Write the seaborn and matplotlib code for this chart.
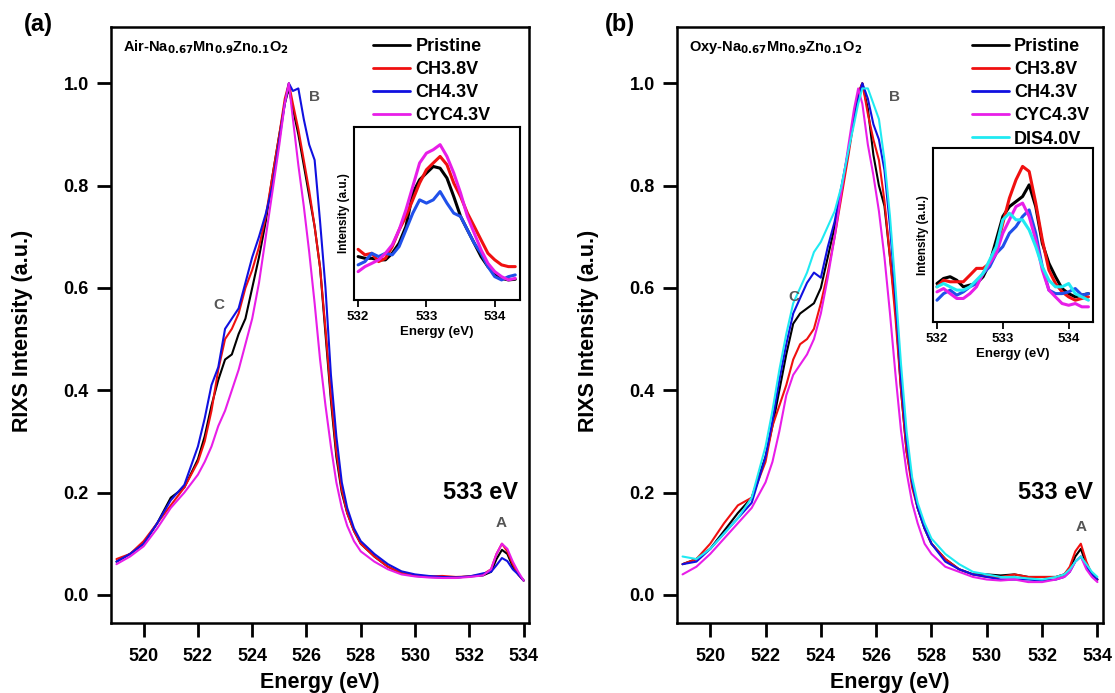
import numpy as np
import pandas as pd
import matplotlib
matplotlib.use("Agg")
import matplotlib.pyplot as plt
import seaborn as sns

# ---------------- data ----------------
energy = [519, 519.5, 520, 520.5, 521, 521.5, 522, 522.25, 522.5, 522.75, 523, 523.25,
          523.5, 523.75, 524, 524.25, 524.5, 524.75, 525, 525.2, 525.35, 525.5, 525.7,
          525.9, 526.1, 526.3, 526.5, 526.7, 526.9, 527.1, 527.3, 527.5, 527.75, 528,
          528.5, 529, 529.5, 530, 530.5, 531, 531.5, 532, 532.5, 532.8, 533, 533.2,
          533.4, 533.6, 533.8, 534]

# panel (a) Air sample
a_pristine = [0.065, 0.08, 0.10, 0.14, 0.19, 0.21, 0.265, 0.31, 0.37, 0.42, 0.46, 0.47,
              0.51, 0.54, 0.60, 0.66, 0.73, 0.82, 0.90, 0.96, 0.99, 0.95, 0.90,
              0.84, 0.78, 0.72, 0.64, 0.51, 0.38, 0.27, 0.20, 0.16, 0.125, 0.10,
              0.075, 0.055, 0.042, 0.037, 0.035, 0.034, 0.034, 0.036, 0.038, 0.045, 0.07, 0.088,
              0.08, 0.055, 0.04, 0.028]
a_ch38 = [0.07, 0.08, 0.105, 0.14, 0.175, 0.21, 0.26, 0.30, 0.36, 0.44, 0.50, 0.52,
          0.55, 0.60, 0.635, 0.68, 0.74, 0.82, 0.90, 0.97, 1.0, 0.96, 0.91,
          0.85, 0.79, 0.72, 0.64, 0.52, 0.39, 0.28, 0.205, 0.16, 0.125, 0.10,
          0.075, 0.055, 0.043, 0.038, 0.036, 0.037, 0.035, 0.036, 0.04, 0.05, 0.08, 0.10,
          0.085, 0.06, 0.04, 0.028]
a_ch43 = [0.065, 0.08, 0.10, 0.14, 0.185, 0.215, 0.29, 0.345, 0.41, 0.445, 0.52, 0.54,
          0.56, 0.61, 0.66, 0.70, 0.745, 0.80, 0.89, 0.96, 1.0, 0.985, 0.99,
          0.93, 0.88, 0.85, 0.73, 0.60, 0.43, 0.31, 0.22, 0.17, 0.13, 0.105,
          0.08, 0.06, 0.046, 0.04, 0.037, 0.035, 0.034, 0.036, 0.042, 0.045, 0.058, 0.072,
          0.066, 0.05, 0.04, 0.028]
a_cyc43 = [0.06, 0.075, 0.095, 0.13, 0.17, 0.20, 0.235, 0.26, 0.29, 0.33, 0.36, 0.40,
           0.44, 0.49, 0.54, 0.61, 0.70, 0.79, 0.88, 0.96, 1.0, 0.93, 0.84,
           0.76, 0.67, 0.57, 0.46, 0.37, 0.29, 0.22, 0.17, 0.135, 0.105, 0.085,
           0.065, 0.05, 0.04, 0.036, 0.034, 0.033, 0.033, 0.035, 0.038, 0.05, 0.08, 0.10,
           0.09, 0.065, 0.045, 0.028]

# panel (b) Oxy sample
b_pristine = [0.06, 0.07, 0.09, 0.125, 0.16, 0.19, 0.27, 0.33, 0.40, 0.47, 0.53, 0.55,
              0.56, 0.57, 0.60, 0.66, 0.72, 0.79, 0.87, 0.93, 0.98, 1.0, 0.95,
              0.86, 0.80, 0.76, 0.66, 0.56, 0.40, 0.28, 0.22, 0.17, 0.13, 0.10,
              0.07, 0.05, 0.04, 0.04, 0.038, 0.04, 0.035, 0.035, 0.035, 0.04, 0.05, 0.075,
              0.09, 0.06, 0.04, 0.03]
b_ch38 = [0.06, 0.07, 0.10, 0.14, 0.175, 0.19, 0.26, 0.33, 0.37, 0.41, 0.46, 0.49,
          0.50, 0.52, 0.57, 0.63, 0.70, 0.78, 0.86, 0.93, 0.98, 1.0, 0.94,
          0.89, 0.85, 0.77, 0.66, 0.54, 0.40, 0.28, 0.21, 0.17, 0.13, 0.10,
          0.07, 0.05, 0.04, 0.035, 0.035, 0.04, 0.035, 0.035, 0.035, 0.04, 0.055, 0.085,
          0.10, 0.065, 0.04, 0.03]
b_ch43 = [0.06, 0.065, 0.09, 0.12, 0.15, 0.18, 0.27, 0.34, 0.42, 0.49, 0.55, 0.58,
          0.61, 0.63, 0.62, 0.68, 0.73, 0.80, 0.87, 0.93, 0.97, 1.0, 0.97,
          0.92, 0.89, 0.83, 0.72, 0.58, 0.42, 0.30, 0.22, 0.17, 0.13, 0.10,
          0.065, 0.05, 0.04, 0.035, 0.03, 0.03, 0.03, 0.028, 0.03, 0.035, 0.045, 0.065,
          0.075, 0.055, 0.04, 0.03]
b_cyc43 = [0.04, 0.055, 0.08, 0.11, 0.14, 0.17, 0.22, 0.26, 0.32, 0.39, 0.43, 0.45,
           0.47, 0.50, 0.55, 0.62, 0.70, 0.79, 0.88, 0.95, 0.99, 0.96, 0.88,
           0.82, 0.75, 0.66, 0.55, 0.43, 0.32, 0.24, 0.18, 0.14, 0.10, 0.08,
           0.055, 0.045, 0.035, 0.03, 0.028, 0.03, 0.025, 0.025, 0.03, 0.035, 0.045, 0.065,
           0.075, 0.05, 0.035, 0.025]
b_dis40 = [0.075, 0.07, 0.09, 0.12, 0.15, 0.19, 0.29, 0.36, 0.44, 0.51, 0.57, 0.60,
           0.63, 0.67, 0.69, 0.72, 0.75, 0.80, 0.87, 0.92, 0.96, 0.99, 0.99,
           0.96, 0.93, 0.85, 0.74, 0.60, 0.45, 0.32, 0.23, 0.18, 0.14, 0.11,
           0.08, 0.06, 0.045, 0.04, 0.035, 0.035, 0.032, 0.03, 0.035, 0.04, 0.05, 0.065,
           0.075, 0.06, 0.045, 0.035]

# insets (arbitrary units)
inset_energy = [532.0, 532.1, 532.2, 532.3, 532.4, 532.5, 532.6, 532.7, 532.8, 532.9,
                533.0, 533.1, 533.2, 533.3, 533.4, 533.5, 533.6, 533.7, 533.8, 533.9,
                534.0, 534.1, 534.2, 534.3]
ia_pristine = [0.251, 0.241, 0.241, 0.232, 0.232, 0.270, 0.328, 0.425, 0.618, 0.695, 0.734, 0.772,
               0.762, 0.705, 0.598, 0.483, 0.405, 0.328, 0.251, 0.193, 0.154, 0.125, 0.116, 0.120]
ia_ch38 = [0.293, 0.261, 0.270, 0.222, 0.241, 0.309, 0.405, 0.483, 0.579, 0.676, 0.753, 0.792,
           0.830, 0.782, 0.676, 0.598, 0.502, 0.425, 0.347, 0.270, 0.232, 0.203, 0.193, 0.193]
ia_ch43 = [0.203, 0.222, 0.270, 0.251, 0.270, 0.261, 0.309, 0.405, 0.502, 0.579, 0.560, 0.579,
           0.627, 0.560, 0.502, 0.483, 0.405, 0.328, 0.270, 0.193, 0.135, 0.116, 0.135, 0.145]
ia_cyc43 = [0.164, 0.193, 0.212, 0.232, 0.270, 0.319, 0.405, 0.521, 0.656, 0.792, 0.849, 0.869,
            0.898, 0.830, 0.734, 0.618, 0.483, 0.386, 0.290, 0.212, 0.164, 0.135, 0.116, 0.125]

ib_pristine = [0.221, 0.250, 0.260, 0.240, 0.202, 0.212, 0.221, 0.260, 0.337, 0.471, 0.606, 0.663,
               0.692, 0.721, 0.788, 0.663, 0.452, 0.337, 0.260, 0.192, 0.163, 0.144, 0.154, 0.163]
ib_ch38 = [0.202, 0.240, 0.231, 0.231, 0.231, 0.269, 0.308, 0.308, 0.337, 0.413, 0.567, 0.712,
           0.817, 0.894, 0.865, 0.683, 0.471, 0.298, 0.221, 0.173, 0.144, 0.125, 0.135, 0.144]
ib_ch43 = [0.125, 0.163, 0.183, 0.154, 0.173, 0.202, 0.221, 0.279, 0.317, 0.394, 0.433, 0.510,
           0.548, 0.606, 0.644, 0.510, 0.317, 0.183, 0.163, 0.163, 0.173, 0.192, 0.154, 0.163]
ib_cyc43 = [0.173, 0.192, 0.163, 0.135, 0.135, 0.163, 0.202, 0.279, 0.337, 0.394, 0.510, 0.587,
            0.663, 0.683, 0.606, 0.471, 0.298, 0.183, 0.144, 0.106, 0.096, 0.106, 0.087, 0.087]
ib_dis40 = [0.202, 0.221, 0.202, 0.183, 0.183, 0.202, 0.240, 0.279, 0.356, 0.433, 0.587, 0.625,
            0.587, 0.587, 0.529, 0.433, 0.317, 0.240, 0.202, 0.202, 0.221, 0.163, 0.144, 0.125]

labels = ["Pristine", "CH3.8V", "CH4.3V", "CYC4.3V", "DIS4.0V"]
colors = ["#000000", "#f01010", "#1010e0", "#e81ee8", "#20eaf2"]
inset_colors = ["#000000", "#f01010", "#2050ea", "#e81ee8", "#20eaf2"]
main_ticks = [520, 522, 524, 526, 528, 530, 532, 534]
y_ticks = [0.0, 0.2, 0.4, 0.6, 0.8, 1.0]
inset_ticks = [532, 533, 534]

# ---------------- style ----------------
sns.set_theme(style="ticks")
plt.rcParams['font.family'] = ['Liberation Sans', 'DejaVu Sans']
plt.rcParams['font.weight'] = 'bold'
plt.rcParams['axes.labelweight'] = 'bold'
for k in ['text.color', 'axes.labelcolor', 'xtick.color', 'ytick.color', 'axes.edgecolor']:
    plt.rcParams[k] = 'black'

fig = plt.figure(figsize=(11.15, 6.93), dpi=100)

main_pos = {"a": [0.0996, 0.101, 0.3749, 0.860], "b": [0.6072, 0.101, 0.3820, 0.860]}
inset_pos = {"a": [0.3175, 0.5671, 0.1489, 0.2496], "b": [0.8368, 0.5354, 0.1435, 0.2511]}
legend_anchor = {"a": (0.627, 0.9815), "b": (0.692, 0.9815)}
ylabel_x = {"a": -0.187, "b": -0.183}

panels = {
    "a": dict(main=[a_pristine, a_ch38, a_ch43, a_cyc43],
              inset=[ia_pristine, ia_ch38, ia_ch43, ia_cyc43],
              title=r"Air-Na$_{\mathbf{0.67}}$Mn$_{\mathbf{0.9}}$Zn$_{\mathbf{0.1}}$O$_{\mathbf{2}}$",
              B=(526.31, 0.973), C=(522.76, 0.566), A=(533.16, 0.14), E=(532.4, 0.20)),
    "b": dict(main=[b_pristine, b_ch38, b_ch43, b_cyc43, b_dis40],
              inset=[ib_pristine, ib_ch38, ib_ch43, ib_cyc43, ib_dis40],
              title=r"Oxy-Na$_{\mathbf{0.67}}$Mn$_{\mathbf{0.9}}$Zn$_{\mathbf{0.1}}$O$_{\mathbf{2}}$",
              B=(526.67, 0.973), C=(523.04, 0.582), A=(533.40, 0.133), E=(532.5, 0.20)),
}


def style_frame(ax, lw=1.8):
    for s in ax.spines.values():
        s.set_visible(True)
        s.set_linewidth(lw)
        s.set_color("black")


for key, p in panels.items():
    ax = fig.add_axes(main_pos[key])
    for i, ys in enumerate(p["main"]):
        sns.lineplot(x=energy, y=ys, ax=ax, color=colors[i], lw=1.5, label=labels[i])
    ax.set_xlim(518.8, 534.2)
    ax.set_ylim(-0.055, 1.11)
    ax.set_xticks(main_ticks)
    ax.set_yticks(y_ticks)
    ax.set_yticklabels([f"{t:.1f}" for t in y_ticks])
    ax.tick_params(direction="out", length=10, width=2, labelsize=13)
    ax.tick_params(axis="x", pad=8)
    ax.tick_params(axis="y", pad=6)
    for t in ax.get_xticklabels() + ax.get_yticklabels():
        t.set_fontweight("bold")
    style_frame(ax)
    ax.set_xlabel("Energy (eV)", fontsize=15.5, fontweight="bold")
    ax.set_ylabel("RIXS Intensity (a.u.)", fontsize=15.5, fontweight="bold")
    ax.xaxis.set_label_coords(0.5, -0.082)
    ax.yaxis.set_label_coords(ylabel_x[key], 0.49)
    ax.text(0.029, 0.966, p["title"], transform=ax.transAxes, fontsize=10.5,
            fontweight="bold", va="center", ha="left")
    leg = ax.legend(loc="upper left", bbox_to_anchor=legend_anchor[key], frameon=False,
                    handlelength=2.05, labelspacing=0.34, handletextpad=0.3,
                    borderaxespad=0, borderpad=0, prop={"weight": "bold", "size": 13})
    for h in leg.get_lines():
        h.set_linewidth(2.0)
    for lab in "ABC":
        ax.text(*p[lab], lab, color="#555555", fontsize=11, fontweight="bold",
                ha="center", va="center")
    ax.text(*p["E"], "533 eV", fontsize=17, fontweight="bold", ha="center", va="center")

    ins = fig.add_axes(inset_pos[key])
    for i, ys in enumerate(p["inset"]):
        sns.lineplot(x=inset_energy, y=ys, ax=ins, color=inset_colors[i], lw=2.2, legend=False)
    ins.set_xlim(531.94, 534.37)
    ins.set_ylim(0, 1)
    ins.set_xticks(inset_ticks)
    ins.set_yticks([])
    ins.tick_params(direction="out", length=5, width=1.3, labelsize=9.5, pad=3)
    for t in ins.get_xticklabels():
        t.set_fontweight("bold")
    style_frame(ins, lw=1.5)
    ins.set_xlabel("Energy (eV)", fontsize=9.5, fontweight="bold", labelpad=2)
    ins.set_ylabel("Intensity (a.u.)", fontsize=8.5, fontweight="bold", labelpad=3)

fig.text(0.034, 0.964, "(a)", fontsize=17, fontweight="bold", ha="center", va="center")
fig.text(0.556, 0.964, "(b)", fontsize=17, fontweight="bold", ha="center", va="center")

fig.savefig("out.png", dpi=100)
